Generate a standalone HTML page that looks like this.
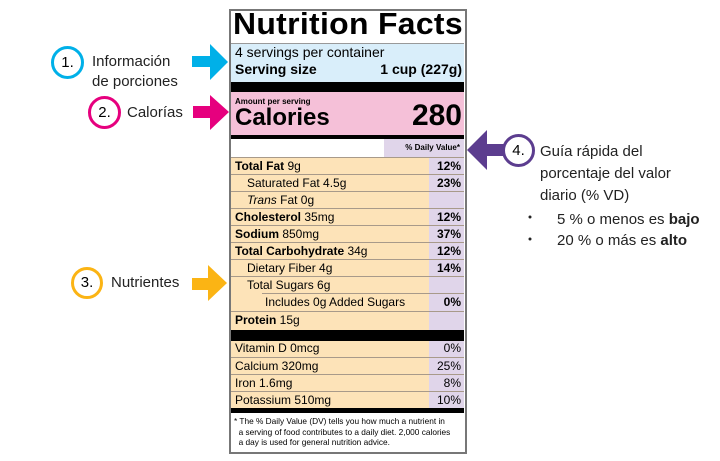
<!DOCTYPE html>
<html><head><meta charset="utf-8"><style>
body{margin:0;width:720px;height:461px;background:#fff;position:relative;overflow:hidden;font-family:"Liberation Sans",Arial,sans-serif;color:#000}
.a{position:absolute;white-space:nowrap}
.c{position:absolute;border-radius:50%;background:#fff;box-sizing:border-box;border-width:3px;border-style:solid;font-size:15px;text-align:center}
.t{font-size:15px;color:#222}
.row{position:absolute;left:231px;width:233px;height:17px;border-top:1px solid #a89a8a;font-size:12px;line-height:17px}
.row .l{position:absolute;left:4px}
.row .r{position:absolute;right:3px;font-weight:bold}
b{font-weight:900}
</style></head><body>
<svg width="720" height="461" style="position:absolute;left:0;top:0">
<polygon points="192,56 210,56 210,44 228,62 210,80 210,67 192,67" fill="#00b0e8"/>
<polygon points="193,106 210,106 210,95 229,112 210,130 210,118 193,118" fill="#e6007e"/>
<polygon points="192,278 208,278 208,265 227,283 208,301 208,290 192,290" fill="#fbb414"/>
<polygon points="505,144 487,144 487,130 467,150 487,170 487,156 505,156" fill="#5c3d8f"/>
<circle cx="530" cy="217" r="1.5" fill="#222"/>
<circle cx="530" cy="239" r="1.5" fill="#222"/>
</svg>
<div class="c" style="left:51px;top:46px;width:33px;height:33px;border-color:#00b0e8;line-height:27px">1.</div>
<div class="a t" style="left:92px;top:52px;line-height:20px">Información<br>de porciones</div>
<div class="c" style="left:88px;top:96px;width:33px;height:33px;border-color:#e6007e;line-height:27px">2.</div>
<div class="a t" style="left:127px;top:104px">Calorías</div>
<div class="c" style="left:71px;top:267px;width:32px;height:32px;border-color:#fbb414;line-height:26px">3.</div>
<div class="a t" style="left:111px;top:274px">Nutrientes</div>
<div class="c" style="left:502px;top:134px;width:33px;height:33px;border-color:#5c3d8f;line-height:27px">4.</div>
<div class="a t" style="left:540px;top:141px;line-height:22px">Guía rápida del<br>porcentaje del valor<br>diario (% VD)</div>
<div class="a t" style="left:557px;top:209px;line-height:21px">5 % o menos es <b style="font-weight:bold">bajo</b><br>20 % o más es <b style="font-weight:bold">alto</b></div>

<div class="a" style="left:229px;top:9px;width:234px;height:441px;border:2px solid #777;background:#fff"></div>
<div class="a" style="left:233px;top:6px;font-size:31px;font-weight:bold;letter-spacing:0.3px;transform:scaleX(1.03);transform-origin:left">Nutrition Facts</div>
<div class="a" style="left:231px;top:43px;width:233px;height:39px;background:#d9eefa;border-top:1px solid #999"></div>
<div class="a" style="left:235px;top:44px;font-size:14px">4 servings per container</div>
<div class="a" style="left:235px;top:61px;font-size:14px;font-weight:bold">Serving size</div>
<div class="a" style="right:258px;top:61px;font-size:14px;font-weight:bold">1 cup (227g)</div>
<div class="a" style="left:231px;top:82px;width:233px;height:10px;background:#000"></div>
<div class="a" style="left:231px;top:92px;width:233px;height:43px;background:#f5c0d8"></div>
<div class="a" style="left:235px;top:97px;font-size:8px;font-weight:bold">Amount per serving</div>
<div class="a" style="left:235px;top:104px;font-size:24px;font-weight:bold">Calories</div>
<div class="a" style="right:258px;top:99px;font-size:30px;font-weight:bold">280</div>
<div class="a" style="left:231px;top:135px;width:233px;height:4px;background:#000"></div>
<div class="a" style="left:384px;top:139px;width:80px;height:18px;background:#e0d5ea;font-size:8px;font-weight:bold;line-height:18px;text-align:right;box-sizing:border-box;padding-right:4px">% Daily Value*</div>
<div class="a" style="left:231px;top:157px;width:198px;height:173px;background:#fde3b8"></div>
<div class="a" style="left:429px;top:157px;width:35px;height:173px;background:#e0d5ea"></div>
<div class="row" style="top:157px"><span class="l"><b>Total Fat</b> 9g</span><span class="r">12%</span></div>
<div class="row" style="top:174px"><span class="l" style="left:16px">Saturated Fat 4.5g</span><span class="r">23%</span></div>
<div class="row" style="top:191px"><span class="l" style="left:16px"><i>Trans</i> Fat 0g</span></div>
<div class="row" style="top:208px"><span class="l"><b>Cholesterol</b> 35mg</span><span class="r">12%</span></div>
<div class="row" style="top:225px"><span class="l"><b>Sodium</b> 850mg</span><span class="r">37%</span></div>
<div class="row" style="top:242px"><span class="l"><b>Total Carbohydrate</b> 34g</span><span class="r">12%</span></div>
<div class="row" style="top:259px"><span class="l" style="left:16px">Dietary Fiber 4g</span><span class="r">14%</span></div>
<div class="row" style="top:276px"><span class="l" style="left:16px">Total Sugars 6g</span></div>
<div class="row" style="top:293px;left:262px;width:202px"><span class="l" style="left:3px">Includes 0g Added Sugars</span><span class="r">0%</span></div>
<div class="row" style="top:311px;height:19px"><span class="l"><b>Protein</b> 15g</span></div>
<div class="a" style="left:231px;top:330px;width:233px;height:11px;background:#000"></div>
<div class="a" style="left:231px;top:341px;width:198px;height:67px;background:#fde3b8"></div>
<div class="a" style="left:429px;top:341px;width:35px;height:67px;background:#e0d5ea"></div>
<div class="row" style="top:340px;border-top:none"><span class="l">Vitamin D 0mcg</span><span class="r" style="font-weight:normal">0%</span></div>
<div class="row" style="top:357px"><span class="l">Calcium 320mg</span><span class="r" style="font-weight:normal">25%</span></div>
<div class="row" style="top:374px"><span class="l">Iron 1.6mg</span><span class="r" style="font-weight:normal">8%</span></div>
<div class="row" style="top:391px"><span class="l">Potassium 510mg</span><span class="r" style="font-weight:normal">10%</span></div>
<div class="a" style="left:231px;top:408px;width:233px;height:5px;background:#000"></div>
<div class="a" style="left:234px;top:416px;font-size:8.3px;line-height:10.5px">* The % Daily Value (DV) tells you how much a nutrient in<br>&nbsp;&nbsp;a serving of food contributes to a daily diet. 2,000 calories<br>&nbsp;&nbsp;a day is used for general nutrition advice.</div>
</body></html>
